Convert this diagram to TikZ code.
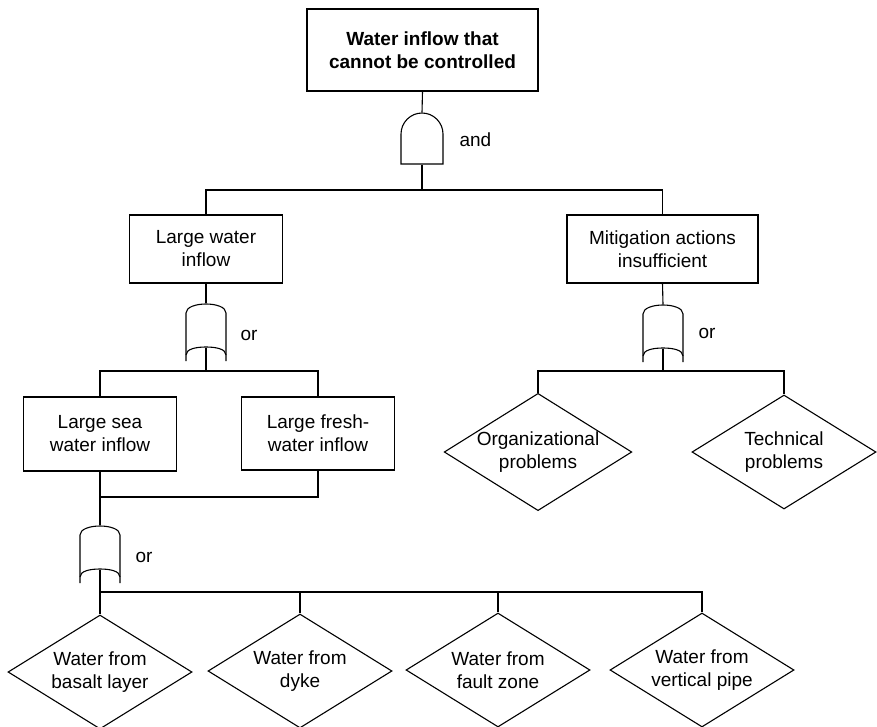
\documentclass[tikz,border=0pt]{standalone}
\usepackage{fontspec}
\setmainfont{Liberation Sans}
\usetikzlibrary{shapes.geometric}

% outline of an OR gate around a gate node (south anchor = notch of the concave base)
\newcommand{\drawor}[1]{%
  \draw[shift={(#1.center)}]
    (-20,35.5) -- (-20,-12.5)
    .. controls (-20,-18.5) and (-10,-21.5) .. (0,-21.5)
    .. controls (10,-21.5) and (20,-18.5) .. (20,-12.5) -- (20,35.5);
  \draw[shift={(#1.center)}]
    (-20,29.5) .. controls (-20,23.5) and (-10,21.5) .. (0,21.5)
    .. controls (10,21.5) and (20,23.5) .. (20,29.5);}
% outline of an AND gate around a gate node
\newcommand{\drawand}[1]{%
  \draw[shift={(#1.center)}]
    (-21,25.5) -- (-21,-4.5)
    .. controls (-21,-16) and (-11.5,-25.5) .. (0,-25.5)
    .. controls (11.5,-25.5) and (21,-16) .. (21,-4.5) -- (21,25.5) -- cycle;}

\begin{document}
\begin{tikzpicture}[x=1pt, y=-1pt, line width=1.1pt,
  txt/.style={font=\fontsize{19}{23}\selectfont},
  event/.style={txt, draw, rectangle, align=center, inner sep=0pt},
  basic/.style={txt, draw, diamond, align=center, inner sep=0pt,
    shape aspect=1.6, minimum width=184pt, minimum height=114pt},
  orbox/.style={rectangle, inner sep=0pt, minimum width=40pt, minimum height=43pt},
  andbox/.style={rectangle, inner sep=0pt, minimum width=42pt, minimum height=51pt},
  gatelabel/.style={txt, anchor=west, inner sep=0pt}]

\useasboundingbox (0,0) rectangle (877,727);

% top event
\node[event, minimum width=231pt, minimum height=82pt, font=\fontsize{19}{23}\selectfont\bfseries]
  (top) at (422.5,50) {Water inflow that\\cannot be controlled};
\node[andbox] (gA) at (422,138.5) {};
\drawand{gA}
\node[gatelabel] (lA) at (459,140) {and};

% intermediate events
\node[event, minimum width=153pt, minimum height=68pt] (lw) at (206,249) {Large water\\inflow};
\node[event, minimum width=191pt, minimum height=68pt] (mit) at (662.5,249) {Mitigation actions\\insufficient};

\node[orbox] (gO1) at (206,325.5) {};
\drawor{gO1}
\node[gatelabel] (lO1) at (240,335) {or};

\node[event, minimum width=153pt, minimum height=74pt] (sea) at (100,434) {Large sea\\water inflow};
\node[event, minimum width=153pt, minimum height=73pt] (fresh) at (318,433.5) {Large fresh-\\water inflow};

\node[orbox] (gO2) at (100,547.5) {};
\drawor{gO2}
\node[gatelabel] (lO2) at (135,557) {or};

\node[orbox] (gO3) at (663,326.5) {};
\drawor{gO3}
\node[gatelabel] (lO3) at (698,333) {or};

% basic events
\node[basic] (org) at (538,452) {Organizational\\problems};
\node[basic] (tech) at (784,452) {Technical\\problems};
\node[basic] (d1) at (100,672) {Water from\\basalt layer};
\node[basic] (d2) at (300,671) {Water from\\dyke};
\node[basic] (d3) at (498,670) {Water from\\fault zone};
\node[basic] (d4) at (702,670) {Water from\\vertical pipe};

% bus points
\coordinate (bA) at (422,190);
\coordinate (b1) at (206,371);
\coordinate (j) at (100,497);
\coordinate (b2) at (100,592);
\coordinate (b3) at (663,371);

% connectors
\draw (top.south) -- (gA.north);
\draw (gA.south) -- (bA);
\draw (lw.north) |- (bA) -| (mit.north);

\draw (lw.south) -- (gO1.north);
\draw (gO1.south) -- (b1);
\draw (sea.north) |- (b1) -| (fresh.north);

\draw (sea.south) -- (j) -| (fresh.south);
\draw (j) -- (gO2.north);
\draw (gO2.south) -- (d1.north);
\draw (b2) -| (d2.north);
\draw (b2) -| (d3.north);
\draw (b2) -| (d4.north);

\draw (mit.south) -- (gO3.north);
\draw (gO3.south) -- (b3);
\draw (org.north) |- (b3) -| (tech.north);
\end{tikzpicture}
\end{document}
